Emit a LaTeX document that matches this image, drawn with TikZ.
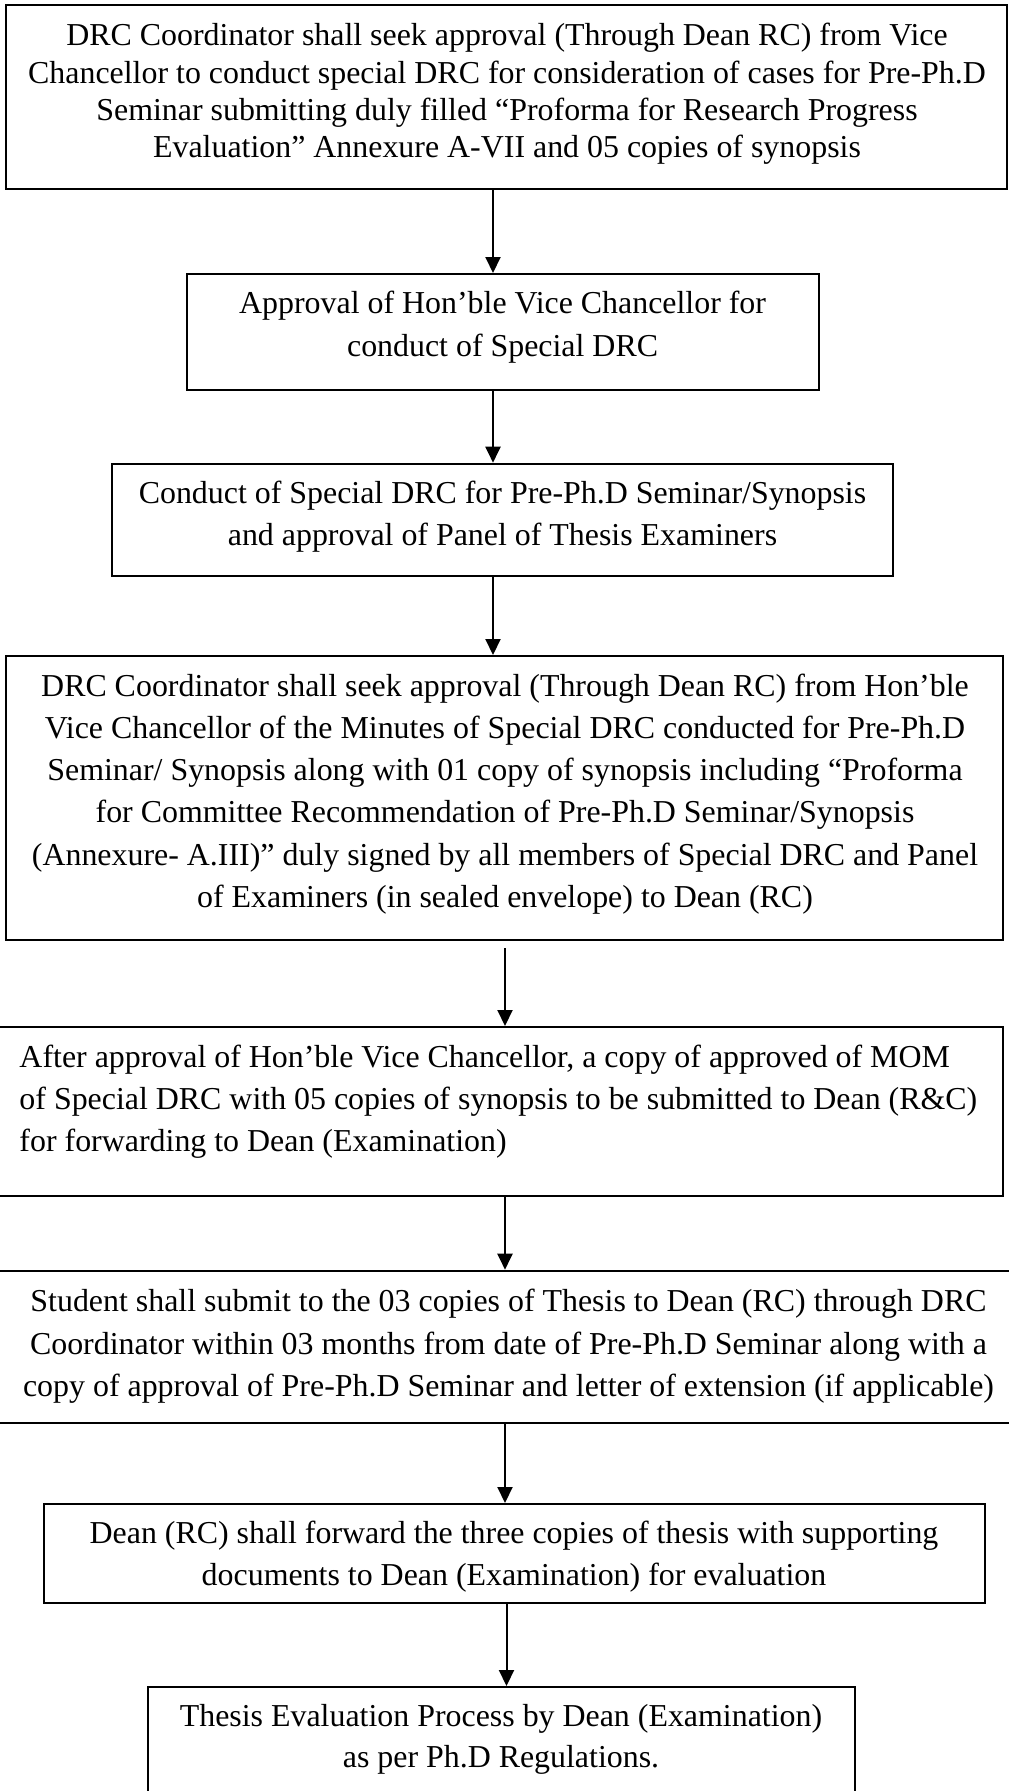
\documentclass[tikz,border=0pt]{standalone}
\usepackage{fontspec}
\setmainfont{Liberation Serif}
\usetikzlibrary{arrows.meta}
\newcommand\fsA{\fontsize{31.9}{37.3}\selectfont}
\newcommand\fsB{\fontsize{31.9}{42.2}\selectfont}
\newcommand\fsC{\fontsize{31.9}{43}\selectfont}
\newcommand\fsD{\fontsize{31.9}{40.3}\selectfont}
\newcommand\tstrut{\rule{0pt}{30pt}}
\begin{document}
\begin{tikzpicture}[x=1pt,y=-1pt,
  box/.style={draw, line width=2pt, inner sep=0pt},
  txt/.style={inner sep=0pt, anchor=north, align=center},
  arr/.style={line width=2pt, -{Triangle[length=16pt,width=15pt]}}]
\useasboundingbox (0,0) rectangle (1009,1791);
\clip (0,0) rectangle (1009,1791);
\fill[white] (0,0) rectangle (1009,1791);

% boxes
\node[box, minimum width=1000.6pt, minimum height=184pt] (b1) at (506.7,97) {};
\node[box, minimum width=632.4pt, minimum height=116pt] (b2) at (502.8,332) {};
\node[box, minimum width=780.5pt, minimum height=112pt] (b3) at (502.25,519.7) {};
\node[box, minimum width=996.2pt, minimum height=284pt] (b4) at (504.5,798) {};
\node[box, minimum width=1022.6pt, minimum height=169pt] (b5) at (491.3,1111.5) {};
\node[box, minimum width=1050pt, minimum height=152pt] (b6) at (505,1346.7) {};
\node[box, minimum width=940.8pt, minimum height=99pt] (b7) at (514.2,1553.5) {};
\node[box, minimum width=706.6pt, minimum height=143pt] (b8) at (501.3,1758.5) {};

% texts
\node[txt, font=\fsA] (t1) at (507,15.5) {\tstrut DRC Coordinator shall seek approval (Through Dean RC) from Vice\\
Chancellor to conduct special DRC for consideration of cases for Pre-Ph.D\\
Seminar submitting duly filled “Proforma for Research Progress\\
Evaluation” Annexure A-VII and 05 copies of synopsis};

\node[txt, font=\fsC] (t2) at (502.6,283) {\tstrut Approval of Hon’ble Vice Chancellor for\\
conduct of Special DRC};

\node[txt, font=\fsB] (t3) at (502.5,473) {\tstrut Conduct of Special DRC for Pre-Ph.D Seminar/Synopsis\\
and approval of Panel of Thesis Examiners};

\node[txt, font=\fsB] (t4) at (505,666) {\tstrut DRC Coordinator shall seek approval (Through Dean RC) from Hon’ble\\
Vice Chancellor of the Minutes of Special DRC conducted for Pre-Ph.D\\
Seminar/ Synopsis along with 01 copy of synopsis including “Proforma\\
for Committee Recommendation of Pre-Ph.D Seminar/Synopsis\\
(Annexure- A.III)” duly signed by all members of Special DRC and Panel\\
of Examiners (in sealed envelope) to Dean (RC)};

\node[txt, font=\fsB, anchor=north west, align=left] (t5) at (19.3,1037) {\tstrut After approval of Hon’ble Vice Chancellor, a copy of approved of MOM\\
of Special DRC with 05 copies of synopsis to be submitted to Dean (R\&C)\\
for forwarding to Dean (Examination)};

\node[txt, font=\fsB] (t6) at (508.5,1281.7) {\tstrut Student shall submit to the 03 copies of Thesis to Dean (RC) through DRC\\
Coordinator within 03 months from date of Pre-Ph.D Seminar along with a\\
copy of approval of Pre-Ph.D Seminar and letter of extension (if applicable)};

\node[txt, font=\fsB] (t7) at (514,1513) {\tstrut Dean (RC) shall forward the three copies of thesis with supporting\\
documents to Dean (Examination) for evaluation};

\node[txt, font=\fsD] (t8) at (501,1696.7) {\tstrut Thesis Evaluation Process by Dean (Examination)\\
as per Ph.D Regulations.};

% arrows
\draw[arr] ([xshift=-13.7pt]b1.south) -- ([xshift=-9.8pt]b2.north);
\draw[arr] ([xshift=-9.8pt]b2.south) -- ([xshift=-9.25pt]b3.north);
\draw[arr] ([xshift=-9.25pt]b3.south) -- ([xshift=-11.5pt]b4.north);
\draw[arr] ([xshift=0.5pt,yshift=-7pt]b4.south) -- ([xshift=13.7pt]b5.north);
\draw[arr] ([xshift=13.7pt]b5.south) -- (b6.north);
\draw[arr] (b6.south) -- ([xshift=-9.2pt]b7.north);
\draw[arr] ([xshift=-7.7pt]b7.south) -- ([xshift=5.2pt]b8.north);
\end{tikzpicture}
\end{document}
